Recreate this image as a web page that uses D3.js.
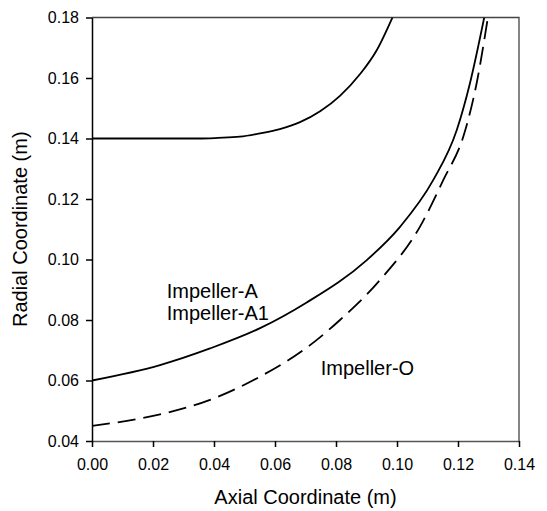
<!DOCTYPE html>
<html>
<head>
<meta charset="utf-8">
<script src="https://cdn.jsdelivr.net/npm/d3@7"></script>
<style>
  body { margin: 0; background: #fff; }
  text { font-family: "Liberation Sans", Arial, sans-serif; fill: #000; }
</style>
</head>
<body>
<div id="chart"></div>
<script>
// hub/shroud profiles (m)
const topX = [0, 0.02, 0.035, 0.0413, 0.0485, 0.0551, 0.0616, 0.0682, 0.0748, 0.0813, 0.0879, 0.0933, 0.0985];
const topY = [0.14, 0.14, 0.14, 0.1402, 0.1406, 0.1417, 0.1431, 0.1454, 0.149, 0.1541, 0.1613, 0.1691, 0.18];

const impAX = [0, 0.0223, 0.0387, 0.0551, 0.0704, 0.0901, 0.101, 0.1119, 0.1196, 0.1239, 0.1286];
const impAY = [0.06, 0.0651, 0.0706, 0.0773, 0.0858, 0.0998, 0.1108, 0.1263, 0.1428, 0.1582, 0.18];

const impOX = [0, 0.0223, 0.0387, 0.0551, 0.0715, 0.0813, 0.0944, 0.1075, 0.1152, 0.1221, 0.1261, 0.1298];
const impOY = [0.045, 0.0488, 0.0536, 0.0613, 0.0717, 0.08, 0.0932, 0.1108, 0.1263, 0.1418, 0.1582, 0.18];

const xTicks = [0, 0.02, 0.04, 0.06, 0.08, 0.10, 0.12, 0.14];
const yTicks = [0.04, 0.06, 0.08, 0.10, 0.12, 0.14, 0.16, 0.18];

const labels = [
    {text: "Impeller-A", x: 0.0245, y: 0.0872},
    {text: "Impeller-A1", x: 0.0245, y: 0.0799},
    {text: "Impeller-O", x: 0.075, y: 0.0617}
];

const width = 547, height = 511;
const margin = {top: 17.5, right: 28, bottom: 70, left: 92};

const svg = d3.select("#chart")
    .append("svg")
    .attr("width", width)
    .attr("height", height);

var x = d3.scaleLinear().domain([0, 0.14]).range([margin.left, width - margin.right]);
var y = d3.scaleLinear().domain([0.04, 0.18]).range([height - margin.bottom, margin.top]);

svg.append("clipPath").attr("id", "plot")
    .append("rect")
    .attr("x", x(0)).attr("y", y(0.18))
    .attr("width", x(0.14) - x(0)).attr("height", y(0.04) - y(0.18));

// frame (top and right)
svg.append("path")
    .attr("d", `M${x(0)},${y(0.18)}H${x(0.14)}V${y(0.04)}`)
    .attr("fill", "none")
    .attr("stroke", "#444")
    .attr("stroke-width", 1.3);

const line = d3.line()
    .x(d => x(d[0]))
    .y(d => y(d[1]))
    .curve(d3.curveMonotoneX);

const curves = [
    {xs: topX, ys: topY, dash: null},
    {xs: impAX, ys: impAY, dash: null},
    {xs: impOX, ys: impOY, dash: "18,8"}
];

svg.append("g")
    .attr("clip-path", "url(#plot)")
    .selectAll("path")
    .data(curves)
    .enter().append("path")
    .attr("d", d => line(d3.zip(d.xs, d.ys)))
    .attr("fill", "none")
    .attr("stroke", "#000")
    .attr("stroke-width", 1.8)
    .attr("stroke-dasharray", d => d.dash);

var xAxis = svg.append("g")
    .attr("transform", `translate(0,${y(0.04)})`)
    .call(d3.axisBottom(x).tickValues(xTicks).tickFormat(d3.format(".2f"))
        .tickSize(6).tickSizeOuter(0).tickPadding(12));

var yAxis = svg.append("g")
    .attr("transform", `translate(${x(0)},0)`)
    .call(d3.axisLeft(y).tickValues(yTicks).tickFormat(d3.format(".2f"))
        .tickSize(6).tickSizeOuter(0).tickPadding(7));

xAxis.select(".domain").attr("stroke", "#555").attr("stroke-width", 1.3);
yAxis.select(".domain").attr("stroke", "#000").attr("stroke-width", 1.5);
svg.selectAll(".tick line").attr("stroke", "#000").attr("stroke-width", 1.5);
svg.selectAll(".tick text")
    .attr("font-family", "Liberation Sans, Arial, sans-serif")
    .attr("font-size", 16)
    .attr("fill", "#000");

svg.selectAll(".curve-label")
    .data(labels)
    .enter().append("text")
    .attr("class", "curve-label")
    .attr("x", d => x(d.x))
    .attr("y", d => y(d.y))
    .attr("font-size", 20)
    .text(d => d.text);

svg.append("text")
    .attr("x", (x(0) + x(0.14)) / 2)
    .attr("y", 504)
    .attr("text-anchor", "middle")
    .attr("font-size", 20)
    .text("Axial Coordinate (m)");

svg.append("text")
    .attr("transform", `translate(27,${(y(0.04) + y(0.18)) / 2}) rotate(-90)`)
    .attr("text-anchor", "middle")
    .attr("font-size", 20)
    .text("Radial Coordinate (m)");
</script>
</body>
</html>
